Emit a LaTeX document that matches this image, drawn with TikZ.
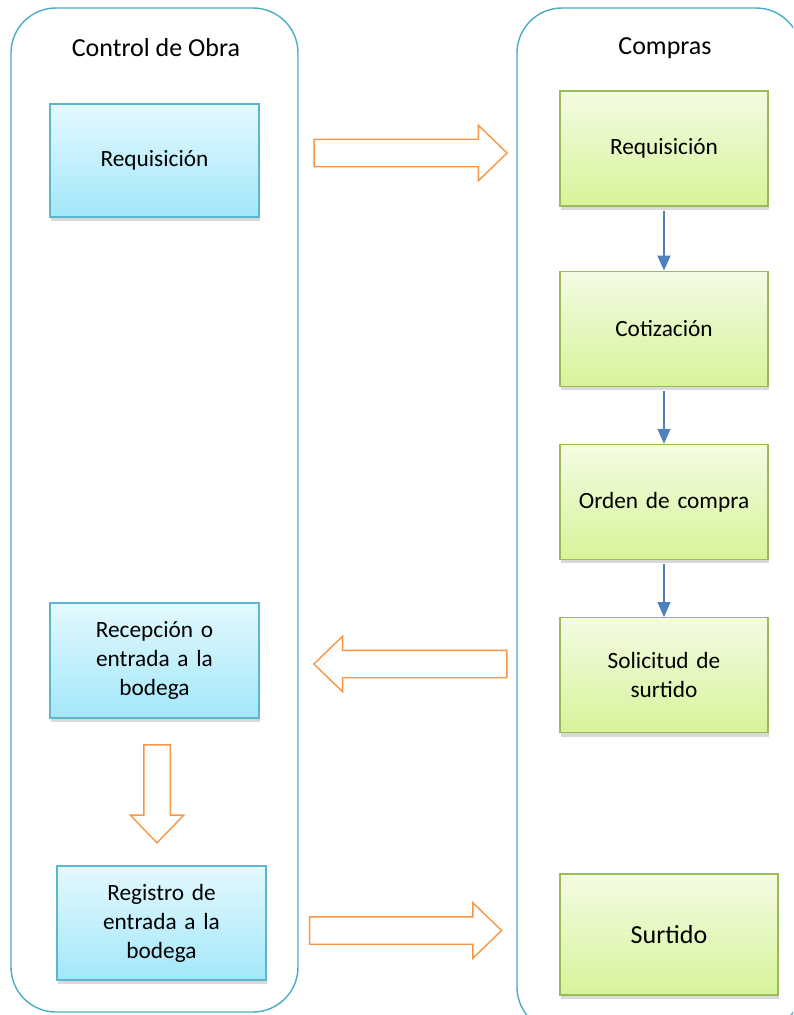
\documentclass[tikz,border=0pt]{standalone}
\usepackage{fontspec}
\setmainfont{Carlito}
\usetikzlibrary{positioning, shapes.arrows, shadows, arrows.meta}
\definecolor{lanecol}{HTML}{4BACC6}
\definecolor{orangecol}{HTML}{F79646}
\definecolor{flowcol}{HTML}{4F81BD}
\definecolor{bluetop}{HTML}{E4F9FE}
\definecolor{bluebot}{HTML}{A3E7FA}
\definecolor{blueline}{HTML}{5DB6D0}
\definecolor{greentop}{HTML}{F4FBE4}
\definecolor{greenbot}{HTML}{D6F499}
\definecolor{greenline}{HTML}{9BBB59}
\tikzset{
x=1pt, y=-1pt,
lane/.style={%
    draw=lanecol,
    line width=1.4pt,
    rounded corners=45pt
},
title/.style={font=\fontsize{26}{30}\selectfont},
stage/.style={%
    rectangle,
    line width=1.2pt,
    align=center,
    text width=190pt,
    minimum width=209pt,
    minimum height=115pt,
    inner sep=0pt,
    font=\fontsize{23.3}{29}\selectfont,
    drop shadow={shadow xshift=1pt, shadow yshift=-4pt, opacity=0.3}
},
obra/.style={%
    stage,
    draw=blueline,
    top color=bluetop, bottom color=bluebot
},
compra/.style={%
    stage,
    draw=greenline,
    top color=greentop, bottom color=greenbot
},
bigarrow/.style={%
    single arrow,
    draw=orangecol,
    fill=white,
    line width=1.4pt,
    inner sep=13pt,
    single arrow head extend=14pt,
    single arrow tip angle=88
},
flow/.style={%
    draw=flowcol,
    line width=1.4pt,
    -{Triangle[width=13pt,length=15pt]},
    shorten <=4pt
},
}
\begin{document}
\begin{tikzpicture}
	\useasboundingbox (0,0) rectangle (793,1015);
	% lanes
	\draw[lane] (11,8) rectangle (298,1012);
	\begin{scope}
		\clip (0,0) rectangle (793,1015);
		\draw[lane] (517,8) rectangle (801,1032);
	\end{scope}
	\node[title] (tobra) at (156,48) {Control de Obra};
	\node[title] (tcompras) at (665,48) {Compras};

	% Control de Obra
	\node[obra, minimum height=113pt] (req1) at (154.5,160.5) {Requisición};
	\node[obra] (recep) at (154.5,660.5) {Recepción o\\entrada a la\\bodega};
	\node[obra, minimum height=114pt] (reg) at (161.5,923) {Registro de\\entrada a la\\bodega};

	% Compras
	\node[compra, minimum width=208pt] (req2) at (664,148.5) {Requisición};
	\node[compra, minimum width=208pt, below=64pt of req2] (cot) {Cotización};
	\node[compra, minimum width=208pt, below=57pt of cot] (orden) {Orden de compra};
	\node[compra, minimum width=208pt, below=57pt of orden] (sol) {Solicitud de\\surtido};
	\node[compra, minimum width=218pt, minimum height=121pt,
	      font=\fontsize{26}{30}\selectfont] (surt) at (669,934.5) {Surtido};

	\draw[flow] (req2) -- (cot);
	\draw[flow] (cot) -- (orden);
	\draw[flow] (orden) -- (sol);

	% between lanes
	\node[bigarrow, minimum height=193pt] (a1) at (403.5,153) {};
	\node[bigarrow, minimum height=193pt, shape border rotate=180] (a2) at (417.5,664) {};
	\node[bigarrow, minimum height=98pt, inner sep=12.5pt,
	      single arrow head extend=13.5pt, shape border rotate=270] (a3) at (157,787) {};
	\node[bigarrow, minimum height=192pt] (a4) at (398.5,930.5) {};
\end{tikzpicture}
\end{document}
